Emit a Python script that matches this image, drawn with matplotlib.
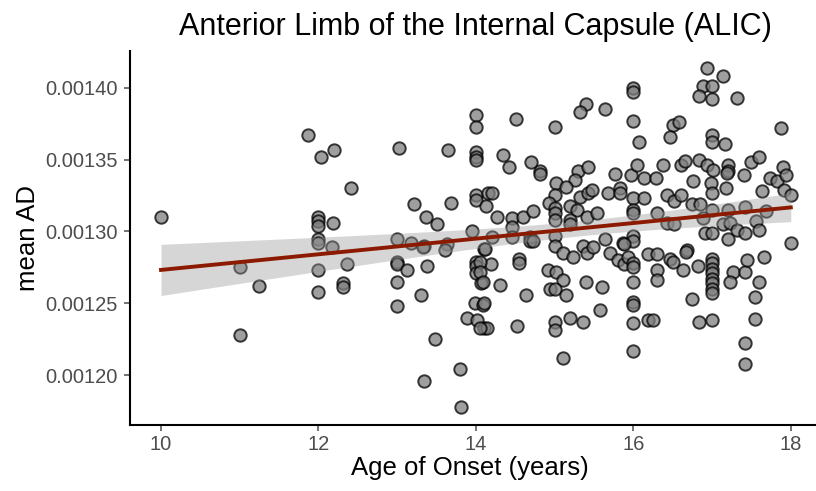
import matplotlib
matplotlib.use("Agg")
import matplotlib.pyplot as plt
import numpy as np
from matplotlib.ticker import FormatStrFormatter

plt.rcParams["font.family"] = ["Liberation Sans", "DejaVu Sans"]

# age of onset (years) and mean AD
age = [10, 11, 11, 11.25, 11.87, 12.03, 12.2,
       12, 12, 12, 12, 12, 12, 12, 12.17, 12.41, 12.36, 12.31, 12.31,
       13.02, 13.65, 14.0, 14.0, 14.0, 14.0, 14.0, 14.0, 14.0,
       13.21, 13.37, 13.5, 13.68, 14.13, 14.15, 13.95, 12.18,
       13.0, 13.0, 13.0, 13.0, 13.0, 13.18, 13.34, 13.34, 13.63, 13.13, 13.38,
       13.3, 13.48, 13.8, 13.81, 14.0, 14.0, 14.0, 14.07, 13.99, 14.09,
       13.89, 14.02, 14.1, 13.61, 13.33, 14.1,
       16.0, 16.0, 16.0, 15.4, 15.32, 15.64, 14.51, 15.0, 16.07, 14.35,
       14.42, 14.7, 14.82, 14.82, 15.3, 15.43, 15.26, 15.02, 15.15, 15.77,
       15.97, 16.04, 16.13, 14.2, 14.27, 14.46, 14.6, 14.72, 15.0, 14.93,
       15.0, 15.0, 15.0, 15.2, 15.32, 15.43, 15.48, 15.29, 15.41, 15.54,
       15.68, 15.83, 15.83, 16.0, 16.0, 16.0, 16.14, 15.2, 15.2, 14.46,
       14.46, 14.2, 14.69, 14.69, 15.0, 15.64, 15.87, 16.0, 16.0, 15.36,
       14.12, 14.19, 14.05, 14.05, 14.55, 14.55, 14.09, 14.3, 14.1, 14.63,
       14.14, 14.05, 14.52, 15.0, 15.1, 15.23, 15.41, 15.49, 14.92, 15.02,
       15.1, 14.94, 15.0, 15.14, 15.4, 15.6, 15.58, 15.0, 15.0, 15.2,
       15.36, 15.1, 15.7, 15.8, 15.88, 15.88, 15.93,
       16.0, 16.0, 16.0, 16.0, 16.0, 16.0, 16.0, 16.19, 16.19, 14.72,
       16.94, 17.14, 16.89, 17.0, 17.0, 16.83, 17.32, 16.5, 16.58, 16.46,
       17.0, 17.0, 17.17, 17.87, 16.38, 16.6, 16.66, 16.83, 16.94, 17.01,
       17.2, 17.2, 17.19, 17.4, 17.5, 17.6, 17.9, 17.74, 17.83, 17.94,
       16.29, 16.76, 16.99, 17.0, 17.18, 17.64, 17.91, 18.0,
       16.43, 16.51, 16.6, 16.74, 16.85, 16.3, 17.0, 17.2, 17.42, 17.69,
       16.89, 16.43, 16.51, 17.14, 17.23, 17.56, 16.91, 17.0, 17.2, 17.32,
       17.42, 17.6, 18.0, 16.68,
       16.3, 16.46, 16.5, 16.67, 16.3, 16.3, 16.63, 16.82,
       17.0, 17.0, 17.0, 17.0, 17.0, 17.0, 17.0, 17.0,
       17.27, 17.23, 17.42, 17.44, 17.66, 17.59, 17.54, 16.75, 16.25, 16.83,
       17.0, 17.54, 17.42, 17.42]

mean_ad = [0.001310, 0.001275, 0.001228, 0.001262, 0.001367, 0.001352, 0.001357,
           0.001310, 0.001307, 0.001304, 0.001295, 0.001292, 0.001273, 0.001258,
           0.001289, 0.001330, 0.001277, 0.001264, 0.001261,
           0.001358, 0.001357, 0.001381, 0.001373, 0.001355, 0.001352, 0.001350,
           0.001325, 0.001322,
           0.001319, 0.001310, 0.001305, 0.001320, 0.001318, 0.001327, 0.001300,
           0.001306,
           0.001295, 0.001279, 0.001277, 0.001265, 0.001248, 0.001292, 0.001290,
           0.001196, 0.001291, 0.001273, 0.001276,
           0.001256, 0.001225, 0.001204, 0.001178, 0.001279, 0.001276, 0.001271,
           0.001264, 0.001250, 0.001249,
           0.001240, 0.001238, 0.001233, 0.001287, 0.001289, 0.001288,
           0.001400, 0.001397, 0.001377, 0.001389, 0.001383, 0.001385, 0.001378,
           0.001373, 0.001362, 0.001353,
           0.001345, 0.001348, 0.001342, 0.001340, 0.001342, 0.001345, 0.001336,
           0.001334, 0.001331, 0.001340,
           0.001339, 0.001346, 0.001337, 0.001327, 0.001310, 0.001309, 0.001310,
           0.001314, 0.001325, 0.001320,
           0.001316, 0.001313, 0.001308, 0.001318, 0.001324, 0.001327, 0.001329,
           0.001315, 0.001310, 0.001313,
           0.001327, 0.001330, 0.001327, 0.001323, 0.001315, 0.001313, 0.001323,
           0.001308, 0.001305, 0.001303,
           0.001296, 0.001296, 0.001296, 0.001293, 0.001297, 0.001295, 0.001292,
           0.001297, 0.001293, 0.001290,
           0.001288, 0.001277, 0.001279, 0.001272, 0.001281, 0.001278, 0.001265,
           0.001263, 0.001250, 0.001256,
           0.001233, 0.001233, 0.001234, 0.001290, 0.001285, 0.001282, 0.001285,
           0.001289, 0.001273, 0.001272,
           0.001266, 0.001260, 0.001260, 0.001256, 0.001265, 0.001261, 0.001245,
           0.001237, 0.001231, 0.001240,
           0.001237, 0.001212, 0.001285, 0.001280, 0.001277, 0.001291, 0.001282,
           0.001278, 0.001275, 0.001265, 0.001251, 0.001249, 0.001236, 0.001217,
           0.001284, 0.001238, 0.001293,
           0.001414, 0.001408, 0.001401, 0.001401, 0.001392, 0.001394, 0.001393,
           0.001374, 0.001376, 0.001366,
           0.001367, 0.001362, 0.001361, 0.001372, 0.001346, 0.001346, 0.001349,
           0.001350, 0.001346, 0.001343,
           0.001346, 0.001342, 0.001341, 0.001339, 0.001348, 0.001352, 0.001345,
           0.001337, 0.001335, 0.001339,
           0.001337, 0.001335, 0.001334, 0.001327, 0.001330, 0.001328, 0.001329,
           0.001325,
           0.001325, 0.001321, 0.001325, 0.001319, 0.001319, 0.001313, 0.001315,
           0.001315, 0.001317, 0.001314,
           0.001309, 0.001306, 0.001305, 0.001305, 0.001306, 0.001307, 0.001299,
           0.001299, 0.001295, 0.001301,
           0.001299, 0.001301, 0.001292, 0.001287,
           0.001284, 0.001281, 0.001279, 0.001286, 0.001273, 0.001266, 0.001273,
           0.001276,
           0.001281, 0.001278, 0.001274, 0.001271, 0.001267, 0.001264, 0.001260,
           0.001257,
           0.001272, 0.001265, 0.001272, 0.001280, 0.001282, 0.001265, 0.001254,
           0.001253, 0.001238, 0.001237,
           0.001238, 0.001239, 0.001222, 0.001208]

x = np.array(age)
y = np.array(mean_ad)

# linear fit with 95% confidence band, as geom_smooth(method="lm")
slope, icpt = np.polyfit(x, y, 1)
n = len(x)
resid = y - (slope * x + icpt)
s = np.sqrt(np.sum(resid ** 2) / (n - 2))
sxx = np.sum((x - x.mean()) ** 2)
xs = np.linspace(x.min(), x.max(), 100)
fit = slope * xs + icpt
se = s * np.sqrt(1 / n + (xs - x.mean()) ** 2 / sxx)
t = 1.97

fig = plt.figure(figsize=(8.16, 4.91), dpi=100)
ax = fig.add_axes([130 / 816, 66 / 491, 686 / 816, 374 / 491])
ax.scatter(x, y, s=80, facecolor="#7f7f7f", edgecolor="black", linewidth=1.4,
           alpha=0.75, zorder=2)
ax.fill_between(xs, fit - t * se, fit + t * se, color="#999999", alpha=0.4,
                linewidth=0, zorder=3)
ax.plot(xs, fit, color="#8b1a00", lw=2.8, zorder=4)

ax.set_xlim(9.606, 18.32)
ax.set_ylim(0.0011652, 0.0014256)
ax.set_xticks([10, 12, 14, 16, 18])
ax.set_yticks([0.00120, 0.00125, 0.00130, 0.00135, 0.00140])
ax.yaxis.set_major_formatter(FormatStrFormatter("%.5f"))
for sp in ["top", "right"]:
    ax.spines[sp].set_visible(False)
for sp in ["left", "bottom"]:
    ax.spines[sp].set_linewidth(1.5)
ax.tick_params(colors="#4d4d4d", labelsize=14.5, length=4, width=1.1)
ax.tick_params(axis="x", pad=3)
ax.tick_params(axis="y", pad=5)
ax.set_xlabel("Age of Onset (years)", fontsize=18.5, va="center")
ax.set_ylabel("mean AD", fontsize=18.5, va="center")
ax.xaxis.set_label_coords(0.5 * (816 - 130) / 686 * 0 + (470 - 130) / 686, (425 - 468) / 374)
ax.yaxis.set_label_coords((28 - 130) / 686, 0.5)
fig.text(475 / 816, 1 - 27 / 491, "Anterior Limb of the Internal Capsule (ALIC)",
         ha="center", va="center", fontsize=22)
fig.savefig("out.png", dpi=100)
